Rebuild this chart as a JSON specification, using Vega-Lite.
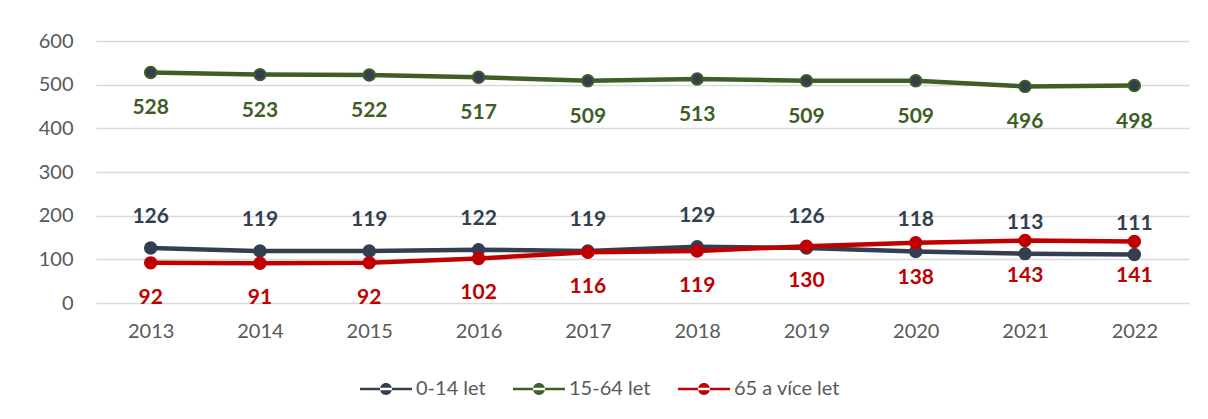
{
  "$schema": "https://vega.github.io/schema/vega-lite/v6.json",
  "width": 1093,
  "height": 262,
  "autosize": {"type": "none"},
  "padding": {"left": 96, "top": 41, "right": 19, "bottom": 116},
  "background": "white",
  "config": {
    "view": {"stroke": null},
    "font": "Lato",
    "axis": {"labelFont": "Lato", "labelFontSize": 20, "labelColor": "#595959"}
  },
  "data": {"values": [
    {"year": "2013", "group": "0-14 let", "value": 126},
    {"year": "2014", "group": "0-14 let", "value": 119},
    {"year": "2015", "group": "0-14 let", "value": 119},
    {"year": "2016", "group": "0-14 let", "value": 122},
    {"year": "2017", "group": "0-14 let", "value": 119},
    {"year": "2018", "group": "0-14 let", "value": 129},
    {"year": "2019", "group": "0-14 let", "value": 126},
    {"year": "2020", "group": "0-14 let", "value": 118},
    {"year": "2021", "group": "0-14 let", "value": 113},
    {"year": "2022", "group": "0-14 let", "value": 111},
    {"year": "2013", "group": "15-64 let", "value": 528},
    {"year": "2014", "group": "15-64 let", "value": 523},
    {"year": "2015", "group": "15-64 let", "value": 522},
    {"year": "2016", "group": "15-64 let", "value": 517},
    {"year": "2017", "group": "15-64 let", "value": 509},
    {"year": "2018", "group": "15-64 let", "value": 513},
    {"year": "2019", "group": "15-64 let", "value": 509},
    {"year": "2020", "group": "15-64 let", "value": 509},
    {"year": "2021", "group": "15-64 let", "value": 496},
    {"year": "2022", "group": "15-64 let", "value": 498},
    {"year": "2013", "group": "65 a více let", "value": 92},
    {"year": "2014", "group": "65 a více let", "value": 91},
    {"year": "2015", "group": "65 a více let", "value": 92},
    {"year": "2016", "group": "65 a více let", "value": 102},
    {"year": "2017", "group": "65 a více let", "value": 116},
    {"year": "2018", "group": "65 a více let", "value": 119},
    {"year": "2019", "group": "65 a více let", "value": 130},
    {"year": "2020", "group": "65 a více let", "value": 138},
    {"year": "2021", "group": "65 a více let", "value": 143},
    {"year": "2022", "group": "65 a více let", "value": 141}
  ]},
  "encoding": {
    "x": {"field": "year", "type": "ordinal", "scale": {"type": "point", "padding": 0.5},
      "axis": {"title": null, "labelAngle": 0, "ticks": false, "domain": false, "labelPadding": 18, "grid": false}},
    "y": {"field": "value", "type": "quantitative", "scale": {"domain": [0, 600], "nice": false},
      "axis": {"title": null, "values": [0, 100, 200, 300, 400, 500, 600], "ticks": false, "domain": false,
        "labelPadding": 23, "gridColor": "#d9d9d9", "gridWidth": 1.5}},
    "color": {"field": "group", "type": "nominal",
      "scale": {"domain": ["0-14 let", "15-64 let", "65 a více let"], "range": ["#333F50", "#3E5E25", "#C00000"]},
      "legend": {
        "title": null, "orient": "none", "direction": "horizontal",
        "legendX": 264, "legendY": 322,
        "symbolType": "M-1,-0.045 H1 V0.045 H-1 Z M-0.23,0 A0.23,0.23 0 1,0 0.23,0 A0.23,0.23 0 1,0 -0.23,0 Z",
        "symbolSize": 2704, "symbolStrokeWidth": 0,
        "labelFontSize": 20, "labelColor": "#595959", "labelFont": "Lato", "labelOffset": 4,
        "columnPadding": 27,
        "encode": {"symbols": {"update": {"fill": {"signal": "scale('color', datum.value)"}, "fillOpacity": {"value": 1}}}}
      }}
  },
  "layer": [
    {
      "mark": {"type": "line", "strokeWidth": 4.5}
    },
    {
      "mark": {"type": "point", "filled": false, "size": 130, "strokeWidth": 2, "opacity": 1},
      "encoding": {
        "fill": {"condition": {"test": "datum.group === '65 a více let'", "value": "#C00000"}, "value": "#333F50"}
      }
    },
    {
      "transform": [{"filter": "datum.group === '0-14 let'"}],
      "mark": {"type": "text", "fontWeight": "bold", "fontSize": 21, "dy": -31, "baseline": "middle"},
      "encoding": {"text": {"field": "value", "type": "quantitative"}, "color": {"value": "#333F50"}}
    },
    {
      "transform": [{"filter": "datum.group === '15-64 let'"}],
      "mark": {"type": "text", "fontWeight": "bold", "fontSize": 21, "dy": 36, "baseline": "middle"},
      "encoding": {"text": {"field": "value", "type": "quantitative"}, "color": {"value": "#3E5E25"}}
    },
    {
      "transform": [{"filter": "datum.group === '65 a více let'"}],
      "mark": {"type": "text", "fontWeight": "bold", "fontSize": 21, "dy": 35, "baseline": "middle"},
      "encoding": {"text": {"field": "value", "type": "quantitative"}, "color": {"value": "#C00000"}}
    }
  ]
}
